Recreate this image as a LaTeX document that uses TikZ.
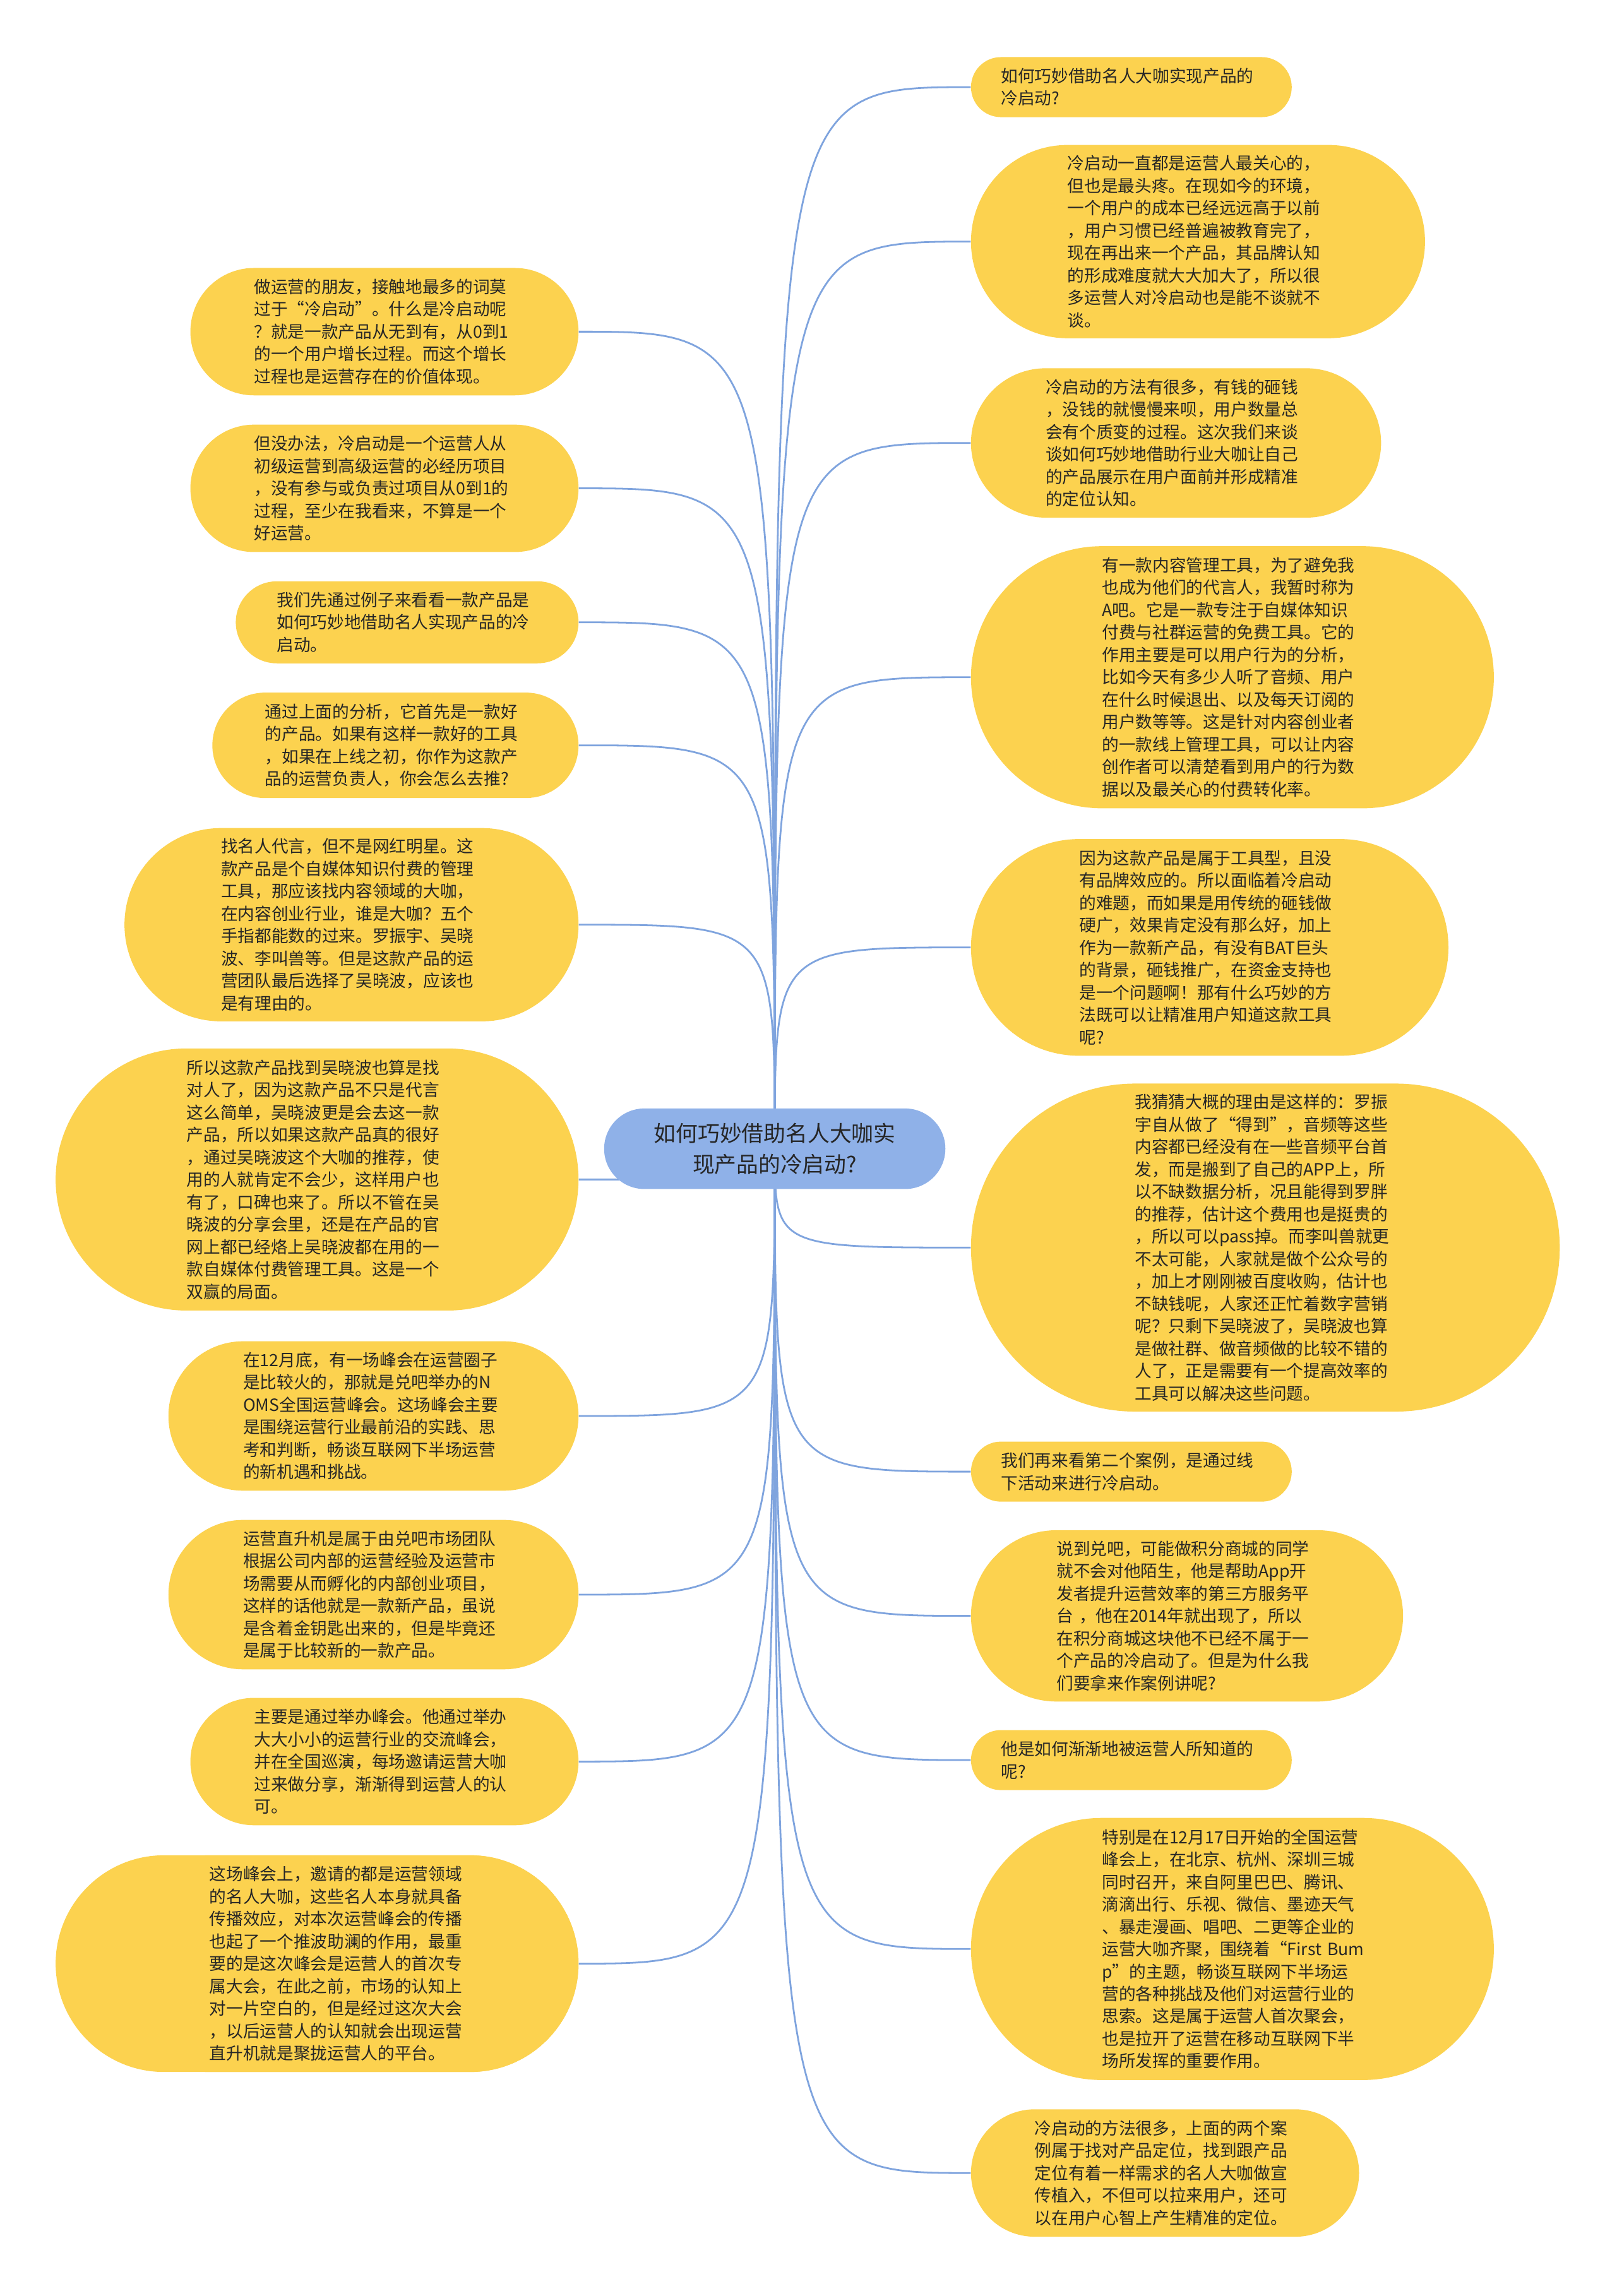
\documentclass[tikz,border=0pt]{standalone}
\usepackage{fontspec}
\setmainfont{Noto Sans CJK SC}
\usetikzlibrary{backgrounds}
\definecolor{leafy}{HTML}{FCD24F}
\definecolor{hubblue}{HTML}{8FB1E8}
\definecolor{linkblue}{HTML}{7FA4DE}
\definecolor{ink}{HTML}{262626}
\begin{document}
\begin{tikzpicture}[x=1pt,y=-1pt,
  leaf/.style={fill=leafy, inner sep=0pt, text width=178pt, align=left, text=ink,
    font=\fontsize{11.5}{15.3}\selectfont},
  hub/.style={fill=hubblue, inner sep=0pt, align=center, text=ink,
    font=\fontsize{15}{21}\selectfont},
  link/.style={draw=linkblue, line width=1.2pt}]
\useasboundingbox (0,0) rectangle (1104,1568);

\node[hub, minimum width=233pt, minimum height=55pt, rounded corners=27.5pt] (c) at (529,784.5)
  {如何巧妙借助名人大咖实\\现产品的冷启动?};

% left side
\node[leaf, minimum width=265pt, minimum height=87pt, rounded corners=43.5pt] (l1) at (262.5,226.5)
  {做运营的朋友，接触地最多的词莫\\过于“冷启动”。什么是冷启动呢\\？就是一款产品从无到有，从0到1\\的一个用户增长过程。而这个增长\\过程也是运营存在的价值体现。};
\node[leaf, minimum width=265pt, minimum height=87pt, rounded corners=43.5pt] (l2) at (262.5,333.5)
  {但没办法，冷启动是一个运营人从\\初级运营到高级运营的必经历项目\\，没有参与或负责过项目从0到1的\\过程，至少在我看来，不算是一个\\好运营。};
\node[leaf, minimum width=234pt, minimum height=56pt, rounded corners=28pt] (l3) at (278,425)
  {我们先通过例子来看看一款产品是\\如何巧妙地借助名人实现产品的冷\\启动。};
\node[leaf, minimum width=250pt, minimum height=72pt, rounded corners=36pt] (l4) at (270,509)
  {通过上面的分析，它首先是一款好\\的产品。如果有这样一款好的工具\\，如果在上线之初，你作为这款产\\品的运营负责人，你会怎么去推?};
\node[leaf, minimum width=310pt, minimum height=132pt, rounded corners=66pt] (l5) at (240,631.5)
  {找名人代言，但不是网红明星。这\\款产品是个自媒体知识付费的管理\\工具，那应该找内容领域的大咖，\\在内容创业行业，谁是大咖？五个\\手指都能数的过来。罗振宇、吴晓\\波、李叫兽等。但是这款产品的运\\营团队最后选择了吴晓波，应该也\\是有理由的。};
\node[leaf, minimum width=357pt, minimum height=179pt, rounded corners=89.5pt] (l6) at (216.5,805.5)
  {所以这款产品找到吴晓波也算是找\\对人了，因为这款产品不只是代言\\这么简单，吴晓波更是会去这一款\\产品，所以如果这款产品真的很好\\，通过吴晓波这个大咖的推荐，使\\用的人就肯定不会少，这样用户也\\有了，口碑也来了。所以不管在吴\\晓波的分享会里，还是在产品的官\\网上都已经烙上吴晓波都在用的一\\款自媒体付费管理工具。这是一个\\双赢的局面。};
\node[leaf, minimum width=280pt, minimum height=102pt, rounded corners=51pt] (l7) at (255,967)
  {在12月底，有一场峰会在运营圈子\\是比较火的，那就是兑吧举办的N\\OMS全国运营峰会。这场峰会主要\\是围绕运营行业最前沿的实践、思\\考和判断，畅谈互联网下半场运营\\的新机遇和挑战。};
\node[leaf, minimum width=280pt, minimum height=102pt, rounded corners=51pt] (l8) at (255,1089)
  {运营直升机是属于由兑吧市场团队\\根据公司内部的运营经验及运营市\\场需要从而孵化的内部创业项目，\\这样的话他就是一款新产品，虽说\\是含着金钥匙出来的，但是毕竟还\\是属于比较新的一款产品。};
\node[leaf, minimum width=265pt, minimum height=87pt, rounded corners=43.5pt] (l9) at (262.5,1203)
  {主要是通过举办峰会。他通过举办\\大大小小的运营行业的交流峰会，\\并在全国巡演，每场邀请运营大咖\\过来做分享，渐渐得到运营人的认\\可。};
\fill[leafy, rounded corners=74pt] (38,1267) rectangle (395,1415);
\node[leaf, minimum width=326pt, minimum height=148pt, rounded corners=74pt] (l10) at (232,1341)
  {这场峰会上，邀请的都是运营领域\\的名人大咖，这些名人本身就具备\\传播效应，对本次运营峰会的传播\\也起了一个推波助澜的作用，最重\\要的是这次峰会是运营人的首次专\\属大会，在此之前，市场的认知上\\对一片空白的，但是经过这次大会\\，以后运营人的认知就会出现运营\\直升机就是聚拢运营人的平台。};

% right side
\node[leaf, minimum width=219pt, minimum height=41pt, rounded corners=20.5pt] (r1) at (772.5,59.5)
  {如何巧妙借助名人大咖实现产品的\\冷启动?};
\node[leaf, minimum width=310pt, minimum height=132pt, rounded corners=66pt] (r2) at (818,165)
  {冷启动一直都是运营人最关心的，\\但也是最头疼。在现如今的环境，\\一个用户的成本已经远远高于以前\\，用户习惯已经普遍被教育完了，\\现在再出来一个产品，其品牌认知\\的形成难度就大大加大了，所以很\\多运营人对冷启动也是能不谈就不\\谈。};
\node[leaf, minimum width=280pt, minimum height=102pt, rounded corners=51pt] (r3) at (803,302.5)
  {冷启动的方法有很多，有钱的砸钱\\，没钱的就慢慢来呗，用户数量总\\会有个质变的过程。这次我们来谈\\谈如何巧妙地借助行业大咖让自己\\的产品展示在用户面前并形成精准\\的定位认知。};
\node[leaf, minimum width=357pt, minimum height=179pt, rounded corners=89.5pt] (r4) at (841.5,462.5)
  {有一款内容管理工具，为了避免我\\也成为他们的代言人，我暂时称为\\A吧。它是一款专注于自媒体知识\\付费与社群运营的免费工具。它的\\作用主要是可以用户行为的分析，\\比如今天有多少人听了音频、用户\\在什么时候退出、以及每天订阅的\\用户数等等。这是针对内容创业者\\的一款线上管理工具，可以让内容\\创作者可以清楚看到用户的行为数\\据以及最关心的付费转化率。};
\node[leaf, minimum width=326pt, minimum height=148pt, rounded corners=74pt] (r5) at (826,647)
  {因为这款产品是属于工具型，且没\\有品牌效应的。所以面临着冷启动\\的难题，而如果是用传统的砸钱做\\硬广，效果肯定没有那么好，加上\\作为一款新产品，有没有BAT巨头\\的背景，砸钱推广，在资金支持也\\是一个问题啊！那有什么巧妙的方\\法既可以让精准用户知道这款工具\\呢?};
\node[leaf, minimum width=402pt, minimum height=224pt, rounded corners=112pt] (r6) at (864,852)
  {我猜猜大概的理由是这样的：罗振\\宇自从做了“得到”，音频等这些\\内容都已经没有在一些音频平台首\\发，而是搬到了自己的APP上，所\\以不缺数据分析，况且能得到罗胖\\的推荐，估计这个费用也是挺贵的\\，所以可以pass掉。而李叫兽就更\\不太可能，人家就是做个公众号的\\，加上才刚刚被百度收购，估计也\\不缺钱呢，人家还正忙着数字营销\\呢？只剩下吴晓波了，吴晓波也算\\是做社群、做音频做的比较不错的\\人了，正是需要有一个提高效率的\\工具可以解决这些问题。};
\node[leaf, minimum width=219pt, minimum height=41pt, rounded corners=20.5pt] (r7) at (772.5,1005)
  {我们再来看第二个案例，是通过线\\下活动来进行冷启动。};
\node[leaf, minimum width=295pt, minimum height=117pt, rounded corners=58.5pt] (r8) at (810.5,1103.5)
  {说到兑吧，可能做积分商城的同学\\就不会对他陌生，他是帮助App开\\发者提升运营效率的第三方服务平\\台~，他在2014年就出现了，所以\\在积分商城这块他不已经不属于一\\个产品的冷启动了。但是为什么我\\们要拿来作案例讲呢?};
\node[leaf, minimum width=219pt, minimum height=41pt, rounded corners=20.5pt] (r9) at (772.5,1202)
  {他是如何渐渐地被运营人所知道的\\呢?};
\node[leaf, minimum width=357pt, minimum height=179pt, rounded corners=89.5pt] (r10) at (841.5,1331)
  {特别是在12月17日开始的全国运营\\峰会上，在北京、杭州、深圳三城\\同时召开，来自阿里巴巴、腾讯、\\滴滴出行、乐视、微信、墨迹天气\\、暴走漫画、唱吧、二更等企业的\\运营大咖齐聚，围绕着“First~Bum\\p”的主题，畅谈互联网下半场运\\营的各种挑战及他们对运营行业的\\思索。这是属于运营人首次聚会，\\也是拉开了运营在移动互联网下半\\场所发挥的重要作用。};
\node[leaf, minimum width=265pt, minimum height=87pt, rounded corners=43.5pt] (r11) at (795.5,1484)
  {冷启动的方法很多，上面的两个案\\例属于找对产品定位，找到跟产品\\定位有着一样需求的名人大咖做宣\\传植入，不但可以拉来用户，还可\\以在用户心智上产生精准的定位。};

\begin{scope}[on background layer]
  \fill[white] (0,0) rectangle (1104,1568);
  \foreach \n in {l1,l2,l3,l4,l5,l6,l7,l8,l9,l10}
    \draw[link] (c.center) .. controls (c.center |- \n.east) .. (\n.east);
  \foreach \n in {r1,r2,r3,r4,r5,r6,r7,r8,r9,r10,r11}
    \draw[link] (c.center) .. controls (c.center |- \n.west) .. (\n.west);
\end{scope}
\end{tikzpicture}
\end{document}
